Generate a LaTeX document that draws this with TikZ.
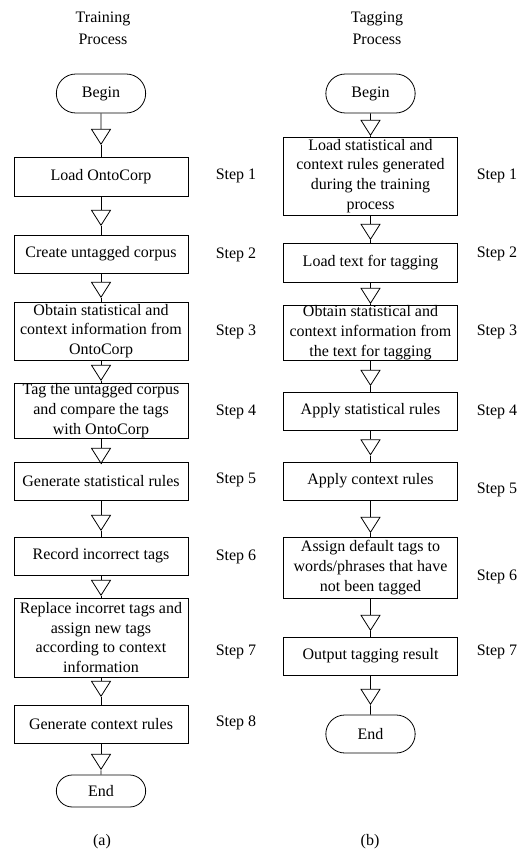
\documentclass[tikz,border=0pt]{standalone}
\usepackage{fontspec}
\setmainfont{Liberation Serif}
\usetikzlibrary{shapes.geometric,shapes.misc}
\tikzset{
    %Define style for process boxes
    procbox/.style={
           rectangle,
           draw=black, line width=0.8pt,
           minimum width=174pt,
           inner xsep=2pt, inner ysep=0pt,
           font=\fontsize{16}{19.7}\selectfont,
           align=center},
    %Define style for begin/end
    termin/.style={
           rounded rectangle,
           draw=black, line width=0.8pt,
           minimum width=96pt,
           inner ysep=0pt,
           font=\fontsize{16}{19.7}\selectfont},
    %Define style for the open triangles
    tri/.style={
           isosceles triangle,
           isosceles triangle stretches,
           shape border rotate=-90,
           draw=black, line width=0.8pt,
           minimum width=19pt, minimum height=15pt,
           inner sep=0pt},
    steplbl/.style={font=\fontsize{16}{19.7}\selectfont},
    caplbl/.style={font=\fontsize{16}{22}\selectfont, align=center}
}
\begin{document}
\begin{tikzpicture}[x=1pt,y=-1pt,every edge/.style={draw,line width=0.8pt}]
\useasboundingbox (0,0) rectangle (529,850);
 %titles
\node[caplbl](titleA) at (103,28){Training\\Process};
\node[caplbl](titleB) at (377,28){Tagging\\Process};
 %training process
\node[termin, minimum height=39pt](beginA) at (101,93.5){Begin};
\node[tri](triA0) at (101,134.5){};
\node[procbox, minimum height=39pt](boxA1) at (101,176.5){Load OntoCorp};
\node[tri](triA1) at (101,215.5){};
\node[procbox, minimum height=38pt](boxA2) at (101,254){Create untagged corpus};
\node[tri](triA2) at (101,287.5){};
\node[procbox, minimum height=58pt](boxA3) at (101,331){Obtain statistical and\\context information from\\OntoCorp};
\node[tri](triA3) at (101,370.5){};
\node[procbox, minimum height=55pt](boxA4) at (101,410.5){Tag the untagged corpus\\and compare the tags\\with OntoCorp};
\node[tri](triA4) at (101,453.5){};
\node[procbox, minimum height=38pt](boxA5) at (101,481){Generate statistical rules};
\node[tri](triA5) at (101,520.5){};
\node[procbox, minimum height=38pt](boxA6) at (101,556){Record incorrect tags};
\node[tri](triA6) at (101,585.5){};
\node[procbox, minimum height=79pt](boxA7) at (101,637.5){Replace incorret tags and\\assign new tags\\according to context\\information};
\node[tri](triA7) at (101,686.5){};
\node[procbox, minimum height=38pt](boxA8) at (101,724){Generate context rules};
\node[tri](triA8) at (101,759.5){};
\node[termin, minimum height=32pt](endA) at (101,791){End};
\node[steplbl](stepA1) at (236,176){Step 1};
\node[steplbl](stepA2) at (236,255){Step 2};
\node[steplbl](stepA3) at (236,332){Step 3};
\node[steplbl](stepA4) at (236,412){Step 4};
\node[steplbl](stepA5) at (236,480){Step 5};
\node[steplbl](stepA6) at (236,557){Step 6};
\node[steplbl](stepA7) at (236,652){Step 7};
\node[steplbl](stepA8) at (236,723){Step 8};
\node[steplbl](capA) at (102,842){(a)};
 %tagging process
\node[termin, minimum height=39pt](beginB) at (370.5,93.5){Begin};
\node[tri](triB0) at (370.5,125.5){};
\node[procbox, minimum height=78pt](boxB1) at (370.5,176){Load statistical and\\context rules generated\\during the training\\process};
\node[tri](triB1) at (370.5,229.5){};
\node[procbox, minimum height=39pt](boxB2) at (370.5,262.5){Load text for tagging};
\node[tri](triB2) at (370.5,293.5){};
\node[procbox, minimum height=55pt](boxB3) at (370.5,332.5){Obtain statistical and\\context information from\\the text for tagging};
\node[tri](triB3) at (370.5,375.5){};
\node[procbox, minimum height=38pt](boxB4) at (370.5,411){Apply statistical rules};
\node[tri](triB4) at (370.5,445){};
\node[procbox, minimum height=38pt](boxB5) at (370.5,481){Apply context rules};
\node[tri](triB5) at (370.5,522.5){};
\node[procbox, minimum height=61pt](boxB6) at (370.5,567.5){Assign default tags to\\words/phrases that have\\not been tagged};
\node[tri](triB6) at (370.5,620.5){};
\node[procbox, minimum height=38pt](boxB7) at (370.5,656){Output tagging result};
\node[tri](triB7) at (370.5,694.5){};
\node[termin, minimum height=38pt](endB) at (370.5,734){End};
\node[steplbl](stepB1) at (497,176){Step 1};
\node[steplbl](stepB2) at (497,254){Step 2};
\node[steplbl](stepB3) at (497,332){Step 3};
\node[steplbl](stepB4) at (497,412){Step 4};
\node[steplbl](stepB5) at (497,490){Step 5};
\node[steplbl](stepB6) at (497,577){Step 6};
\node[steplbl](stepB7) at (497,652){Step 7};
\node[steplbl](capB) at (370,842){(b)};
 %connectors
\path (beginA) edge (triA0)
    (triA0) edge (boxA1)
    (boxA1) edge (triA1)
    (triA1) edge (boxA2)
    (boxA2) edge (triA2)
    (triA2) edge (boxA3)
    (boxA3) edge (triA3)
    (triA3) edge (boxA4)
    (boxA4) edge (triA4)
    (triA4) edge (boxA5)
    (boxA5) edge (triA5)
    (triA5) edge (boxA6)
    (boxA6) edge (triA6)
    (triA6) edge (boxA7)
    (boxA7) edge (triA7)
    (triA7) edge (boxA8)
    (boxA8) edge (triA8)
    (triA8) edge (endA);
\path (beginB) edge (triB0)
    (triB0) edge (boxB1)
    (boxB1) edge (triB1)
    (triB1) edge (boxB2)
    (boxB2) edge (triB2)
    (triB2) edge (boxB3)
    (boxB3) edge (triB3)
    (triB3) edge (boxB4)
    (boxB4) edge (triB4)
    (triB4) edge (boxB5)
    (boxB5) edge (triB5)
    (triB5) edge (boxB6)
    (boxB6) edge (triB6)
    (triB6) edge (boxB7)
    (boxB7) edge (triB7)
    (triB7) edge (endB);
\end{tikzpicture}
\end{document}
